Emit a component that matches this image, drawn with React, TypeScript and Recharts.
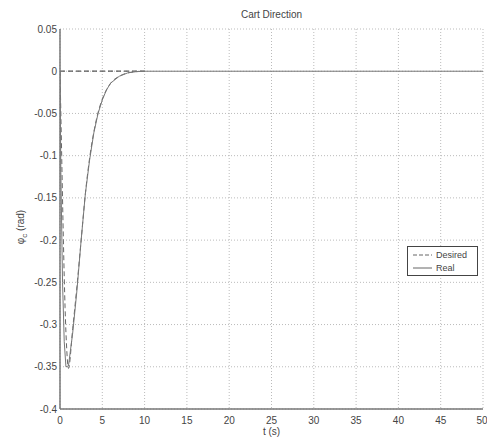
import { LineChart, Line, XAxis, YAxis, CartesianGrid } from "recharts";

// values (t in seconds, angle in rad)
const tReal = [0, 0.1, 0.3, 0.5, 0.7, 1.0, 1.5, 2, 2.5, 3, 3.5, 4, 4.5, 5, 5.5, 6, 7, 8, 9, 10, 50];
const realVals = [0, -0.12, -0.25, -0.32, -0.35, -0.349, -0.31, -0.26, -0.2, -0.145, -0.105, -0.073, -0.05, -0.034, -0.022, -0.014, -0.006, -0.002, -0.0005, 0, 0];

const tDesired = [0, 0.2, 0.4, 0.6, 0.8, 1.0, 1.5, 2, 2.5, 3, 3.5, 4, 4.5, 5, 5.5, 6, 7, 8, 9, 10];
const desiredVals = [0, -0.1, -0.2, -0.28, -0.33, -0.352, -0.305, -0.255, -0.2, -0.145, -0.103, -0.072, -0.049, -0.033, -0.022, -0.014, -0.006, -0.002, -0.0005, 0];

const tZero = [0, 10];
const zeroVals = [0, 0];

const xTicks = [0, 5, 10, 15, 20, 25, 30, 35, 40, 45, 50];
const yTicks = [0.05, 0, -0.05, -0.1, -0.15, -0.2, -0.25, -0.3, -0.35, -0.4];

const realData = tReal.map((t, i) => ({ t, v: realVals[i] }));
const desiredData = tDesired.map((t, i) => ({ t, v: desiredVals[i] }));
const zeroData = tZero.map((t, i) => ({ t, v: zeroVals[i] }));

const font = "'Liberation Sans', Arial, sans-serif";
const textColor = "#444";

function YLabel({ viewBox }: any) {
  const cx = 24;
  const cy = viewBox.y + viewBox.height / 2 + 8;
  return (
    <text
      x={cx}
      y={cy}
      transform={`rotate(-90 ${cx} ${cy})`}
      textAnchor="middle"
      fontSize={10}
      fill={textColor}
      fontFamily={font}
    >
      φ
      <tspan fontSize={8} dy={3}>
        c
      </tspan>
      <tspan dy={-3}> (rad)</tspan>
    </text>
  );
}

export default function App() {
  return (
    <div
      style={{
        position: "absolute",
        left: 0,
        top: 0,
        width: 487,
        height: 439,
        background: "#fff",
        fontFamily: font,
      }}
    >
      <div
        style={{
          position: "absolute",
          top: 9,
          left: 60,
          width: 423,
          textAlign: "center",
          fontSize: 10,
          color: textColor,
        }}
      >
        Cart Direction
      </div>
      <LineChart
        width={487}
        height={439}
        margin={{ top: 29, right: 4, left: 0, bottom: 0 }}
      >
        <CartesianGrid
          stroke="#bbb"
          strokeDasharray="1 2"
          horizontalValues={yTicks}
          verticalValues={xTicks}
        />
        <XAxis
          type="number"
          dataKey="t"
          domain={[0, 50]}
          ticks={xTicks}
          allowDataOverflow
          height={30}
          tickLine={false}
          tickMargin={2}
          tick={{ fontSize: 10, fill: textColor, fontFamily: font }}
          axisLine={{ stroke: "#777", strokeWidth: 1.5 }}
          label={{
            value: "t (s)",
            position: "insideBottom",
            offset: 4,
            fontSize: 10,
            fill: textColor,
            fontFamily: font,
          }}
        />
        <YAxis
          type="number"
          dataKey="v"
          domain={[-0.4, 0.05]}
          ticks={yTicks}
          allowDataOverflow
          width={60}
          tickLine={false}
          tickSize={1}
          tickMargin={2}
          tickFormatter={(v) => String(v)}
          tick={{ fontSize: 10, fill: textColor, fontFamily: font }}
          axisLine={{ stroke: "#777", strokeWidth: 1.5 }}
          label={<YLabel />}
        />
        <Line
          data={zeroData}
          dataKey="v"
          stroke="#555"
          strokeWidth={1.2}
          strokeDasharray="5 3"
          dot={false}
          legendType="none"
          isAnimationActive={false}
        />
        <Line
          data={desiredData}
          dataKey="v"
          type="monotone"
          stroke="#666"
          strokeWidth={1}
          strokeDasharray="5 3"
          dot={false}
          isAnimationActive={false}
        />
        <Line
          data={realData}
          dataKey="v"
          type="linear"
          stroke="#777"
          strokeWidth={1}
          dot={false}
          isAnimationActive={false}
        />
      </LineChart>
      <div
        style={{
          position: "absolute",
          left: 407,
          top: 246,
          width: 69,
          height: 28,
          border: "1px solid #444",
          background: "#fff",
          fontSize: 9,
          color: textColor,
        }}
      >
        <div style={{ display: "flex", alignItems: "center", height: 14, marginTop: 1 }}>
          <svg width={28} height={6}>
            <line x1={5} y1={3} x2={24} y2={3} stroke="#666" strokeDasharray="4 2" />
          </svg>
          <span>Desired</span>
        </div>
        <div style={{ display: "flex", alignItems: "center", height: 12 }}>
          <svg width={28} height={6}>
            <line x1={5} y1={3} x2={24} y2={3} stroke="#666" />
          </svg>
          <span>Real</span>
        </div>
      </div>
    </div>
  );
}
